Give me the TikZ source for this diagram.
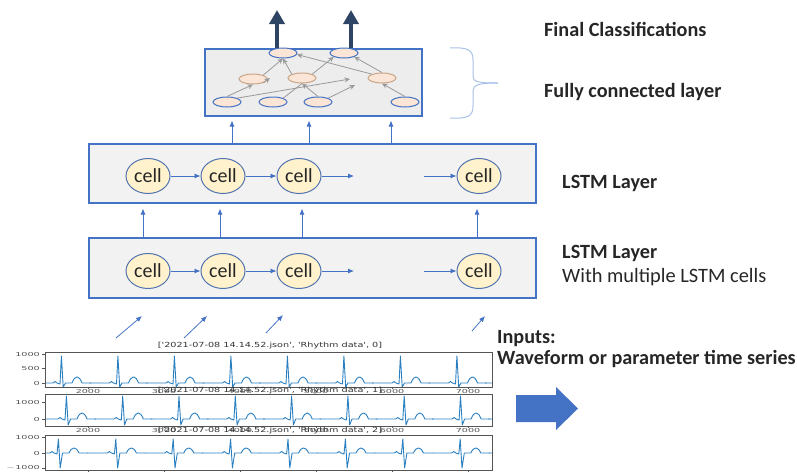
\documentclass[tikz,border=0pt]{standalone}
\usepackage{fontspec}
\setmainfont{Carlito}
\newfontfamily\plotfont[Ligatures=TeXOff]{DejaVu Sans}
\usetikzlibrary{arrows.meta,shapes.geometric}

\definecolor{frameblue}{HTML}{4472C4}
\definecolor{cellborder}{HTML}{5174B0}
\definecolor{cellfill}{HTML}{FFF2CC}
\definecolor{layerfill}{HTML}{F2F2F2}
\definecolor{fcfill}{HTML}{EDEDED}
\definecolor{unitfill}{HTML}{FBE5D6}
\definecolor{unitbrown}{HTML}{C9A587}
\definecolor{linkgray}{HTML}{9A9A9A}
\definecolor{navy}{HTML}{2E4465}
\definecolor{bracecol}{HTML}{A7C2E6}
\definecolor{ecgblue}{HTML}{2A7FC0}
\definecolor{labeltext}{HTML}{262626}
\definecolor{axisgray}{HTML}{555555}

% one heartbeat: R-peak x, baseline y, R height, S depth, T height
\newcommand\ecgbeat[5]{%
  \draw[ecgline] ({#1-29},#2) -- ({#1-9},#2)
    .. controls ({#1-8},{#2-2}) and ({#1-6},{#2-2}) .. ({#1-5},#2)
    -- ({#1-2},{#2+1}) -- ({#1-0.6},{#2-#3}) -- ({#1+1.2},{#2+#4})
    -- ({#1+3.5},#2) -- ({#1+10},#2)
    .. controls ({#1+13},{#2-#5*1.35}) and ({#1+17},{#2-#5*1.35}) .. ({#1+20},#2)
    -- ({#1+29},#2);}
% wide, flat text of the plot panels
\newcommand\wideticks[1]{\scalebox{1.75}[1]{#1}}
\newcommand\widetitle[1]{\scalebox{1.38}[1]{#1}}

\begin{document}
\begin{tikzpicture}[x=1pt,y=-1pt,
  layerbox/.style={draw=frameblue,fill=layerfill,line width=1.1pt,inner sep=0pt},
  fcbox/.style={draw=frameblue,fill=fcfill,line width=1.1pt,inner sep=0pt},
  cell/.style={ellipse,draw=cellborder,fill=cellfill,line width=1pt,
    minimum width=44pt,minimum height=35pt,inner sep=0pt,
    font=\fontsize{20}{20}\selectfont,text=labeltext},
  unitblue/.style={ellipse,draw=frameblue,fill=unitfill,line width=1pt,
    minimum width=28pt,minimum height=10pt,inner sep=0pt},
  unitmid/.style={ellipse,draw=unitbrown,fill=unitfill,line width=1pt,
    minimum width=28pt,minimum height=10pt,inner sep=0pt},
  flow/.style={draw=frameblue,line width=0.8pt,-{Latex[length=6pt,width=5pt]}},
  link/.style={draw=linkgray,line width=0.8pt,-{Stealth[length=5.5pt,width=5pt]}},
  outarrow/.style={draw=navy,line width=4.5pt,-{Triangle[length=14pt,width=15pt]}},
  label/.style={anchor=base west,inner sep=0pt,text=labeltext,
    font=\fontsize{20.2}{20.2}\selectfont\bfseries},
  labelreg/.style={anchor=base west,inner sep=0pt,text=labeltext,
    font=\fontsize{20.4}{20.4}\selectfont},
  ecgline/.style={draw=ecgblue,line width=0.9pt,line join=round},
  plotframe/.style={draw=axisgray,line width=0.6pt},
  ticklab/.style={font=\plotfont\fontsize{5.5}{5.5}\selectfont,text=axisgray,inner sep=0pt},
  plottitle/.style={font=\plotfont\fontsize{7}{7}\selectfont,text=black!80,inner sep=0pt}
]
\useasboundingbox (0,0) rectangle (797,472);

% ---------- layer frames ----------
\node[fcbox,minimum width=217pt,minimum height=67pt] (fc) at (313.5,82.5) {};
\node[layerbox,minimum width=447pt,minimum height=59pt] (lstmB) at (312.5,173.5) {};
\node[layerbox,minimum width=447pt,minimum height=60pt] (lstmA) at (312.5,268) {};

% ---------- fully connected units ----------
\node[unitblue] (t1) at (283,53) {};
\node[unitblue] (t2) at (344,53) {};
\node[unitmid]  (m1) at (253,79) {};
\node[unitmid]  (m2) at (302,78) {};
\node[unitmid]  (m3) at (382,78) {};
\node[unitblue] (b1) at (227,102) {};
\node[unitblue] (b2) at (273,102) {};
\node[unitblue] (b3) at (318,102) {};
\node[unitblue] (b4) at (405,102) {};
\coordinate (f1) at (350,79);
\coordinate (f2) at (355,85);
\coordinate (f3) at (270,78);

\draw[link] (b1.north) -- (m1.south);
\draw[link] (b1.north east) -- (f1);
\draw[link] (m1.north east) -- (t1.south);
\draw[link] (m2.north west) -- (t1.south);
\draw[link] (m3.north west) -- ([xshift=14pt,yshift=4pt]t1.south);
\draw[link] (m2.north east) -- (t2.south west);
\draw[link] (m3.north) -- (t2.south east);
\draw[link] (b3.north) -- (m2.south);
\draw[link] (b3.north east) -- (f2);
\draw[link] (b4.north) -- (m3.south);
\draw[linkgray,line width=0.8pt] (b2.north east) -- (m2.south);
\draw[link] (m1.south east) -- (f3);

% ---------- outputs ----------
\coordinate (o1) at (277,10);
\coordinate (o2) at (351,10);
\draw[outarrow] (fc.north -| o1) -- (o1);
\draw[outarrow] (fc.north -| o2) -- (o2);

% ---------- LSTM cells ----------
\node[cell] (c1) at (148,176) {cell};
\node[cell] (c2) at (223,176) {cell};
\node[cell] (c3) at (299,176) {cell};
\node[cell] (c4) at (479,176) {cell};
\node[cell] (d1) at (148,271) {cell};
\node[cell] (d2) at (223,271) {cell};
\node[cell] (d3) at (299,271) {cell};
\node[cell] (d4) at (479,271) {cell};
\coordinate (cgapL) at (354,176);
\coordinate (cgapR) at (424,176);
\coordinate (dgapL) at (354,271);
\coordinate (dgapR) at (424,271);

\draw[flow] (c1) -- (c2);
\draw[flow] (c2) -- (c3);
\draw[flow] (c3) -- (cgapL);
\draw[flow] (cgapR) -- (c4);
\draw[flow] (d1) -- (d2);
\draw[flow] (d2) -- (d3);
\draw[flow] (d3) -- (dgapL);
\draw[flow] (dgapR) -- (d4);

% ---------- between layers ----------
\foreach \n/\x in {1/143,2/220,3/302,4/477}{\coordinate (up\n) at (\x,0);}
\foreach \n in {1,...,4}{\draw[flow,shorten >=5pt] (lstmA.north -| up\n) -- (lstmB.south -| up\n);}
\foreach \n/\x in {1/232,2/309,3/391}{\coordinate (fu\n) at (\x,0);}
\foreach \n in {1,2,3}{\draw[flow,shorten >=4pt] (lstmB.north -| fu\n) -- (fc.south -| fu\n);}

% inputs into the first layer
\coordinate (i1s) at (116,338); \coordinate (i1e) at (142,316);
\coordinate (i2s) at (184,338); \coordinate (i2e) at (207,316);
\coordinate (i3s) at (266,333); \coordinate (i3e) at (283,315);
\coordinate (i4s) at (472,331); \coordinate (i4e) at (485,316);
\foreach \n in {1,...,4}{\draw[flow] (i\n s) -- (i\n e);}

% ---------- brace and labels ----------
\draw[bracecol,line width=1pt]
  (450,48) .. controls (468,47) and (473,50) .. (473,60) -- (473,76)
  .. controls (473,82) and (478,83) .. (498,83);
\draw[bracecol,line width=1pt]
  (498,83) .. controls (478,83) and (473,85) .. (473,91) -- (473,106)
  .. controls (473,116) and (468,119) .. (450,118);

\node[label] (lfinal) at (544,36) {Final Classifications};
\node[label] (lfc) at (544,97) {Fully connected layer};
\node[label] (lB) at (562,188) {LSTM Layer};
\node[label] (lA) at (562,258) {LSTM Layer};
\node[labelreg] (lA2) at (562,282) {With multiple LSTM cells};
\node[label] (lin) at (497,343) {Inputs:};
\node[label] (lin2) at (497,364) {Waveform or parameter time series};

% block arrow
\fill[frameblue] (516,395) -- (556,395) -- (556,387) -- (578,408.5)
  -- (556,430) -- (556,422) -- (516,422) -- cycle;

% ---------- waveform panels ----------
% panel 0
\begin{scope}
  \clip (45,352) rectangle (492,387);
  \foreach \i in {0,...,8}{\ecgbeat{62+56.5*\i}{383}{27}{4}{6}}
\end{scope}
\draw[plotframe] (45,352) rectangle (492,387);
% panel 1
\begin{scope}
  \clip (45,394) rectangle (492,426);
  \foreach \i in {0,...,8}{\ecgbeat{67+56.3*\i}{419}{23}{6}{6}}
\end{scope}
\draw[plotframe] (45,394) rectangle (492,426);
% panel 2
\begin{scope}
  \clip (45,435) rectangle (492,470);
  \foreach \i in {0,...,8}{\ecgbeat{59+57.4*\i}{453}{14}{15}{5}}
\end{scope}
\draw[plotframe] (45,435) rectangle (492,470);

% y ticks
\foreach \y/\t in {354/1000,368/500,383/0,402/1000,419/0,437/1000,453/0,468/{$-$1000}}{
  \draw[axisgray,line width=0.5pt] (45,\y) -- (42,\y);
  \node[ticklab,anchor=east] at (40,\y) {\wideticks{\t}};
}
% x ticks
\foreach \x/\t in {88/2000,164/3000,240/4000,316/5000,392/6000,468/7000}{
  \draw[axisgray,line width=0.5pt] (\x,387) -- (\x,389);
  \draw[axisgray,line width=0.5pt] (\x,426) -- (\x,428);
  \draw[axisgray,line width=0.5pt] (\x,470) -- (\x,472);
  \node[ticklab,anchor=north] at (\x,389.5) {\wideticks{\t}};
  \node[ticklab,anchor=north] at (\x,428.5) {\wideticks{\t}};
}
% panel titles
\node[plottitle] (pt0) at (270,346) {\widetitle{['2021-07-08 14.14.52.json', 'Rhythm data', 0]}};
\node[plottitle] (pt1) at (270,391) {\widetitle{['2021-07-08 14.14.52.json', 'Rhythm data', 1]}};
\node[plottitle] (pt2) at (270,431) {\widetitle{['2021-07-08 14.14.52.json', 'Rhythm data', 2]}};
\end{tikzpicture}
\end{document}
